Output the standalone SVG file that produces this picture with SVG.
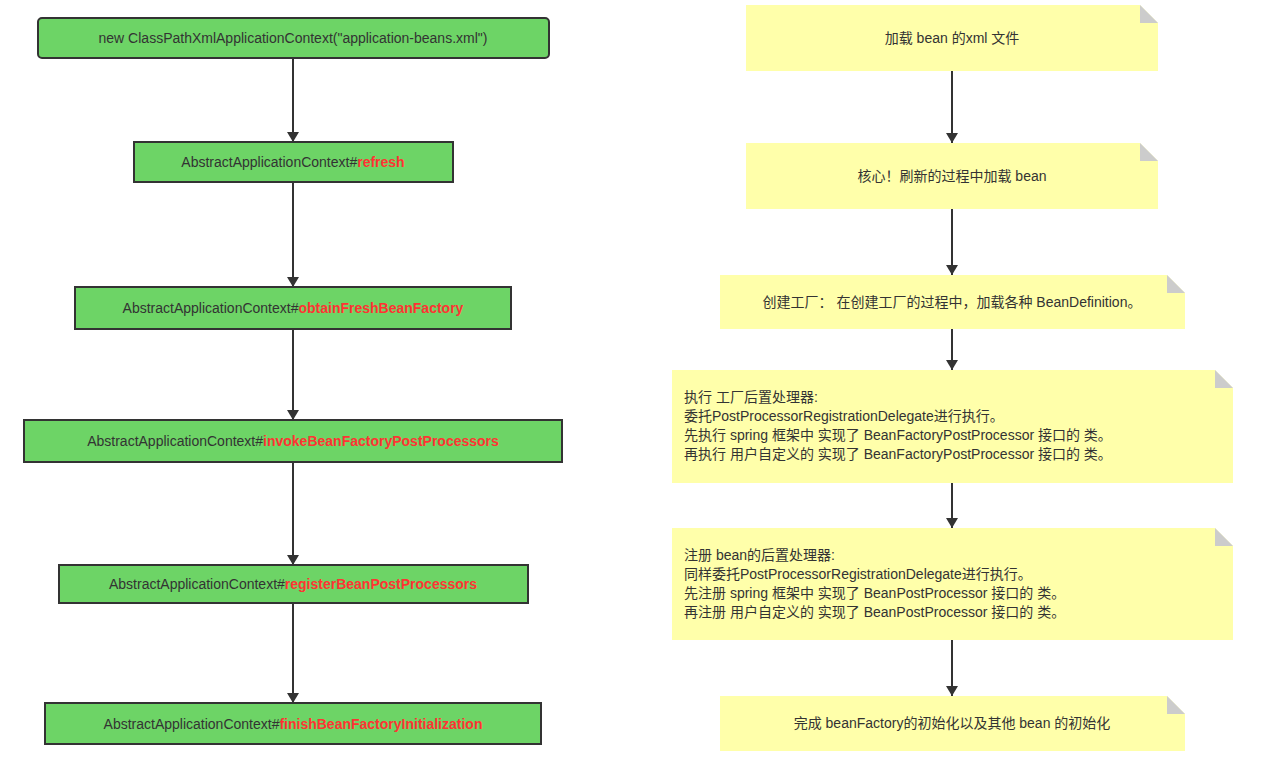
<svg xmlns="http://www.w3.org/2000/svg" width="1263" height="776" viewBox="0 0 1263 776">
<style>
.b{fill:#6dd466;stroke:#333;stroke-width:2}
.t{font-family:"Liberation Sans","Noto Sans CJK SC",sans-serif;font-size:14px;fill:#333}
.r{fill:#f33;font-weight:bold}
.n{fill:#ffffaa}
.f{fill:#ccc}
.c{stroke:#333;stroke-width:2;fill:none;marker-end:url(#a)}
</style>
<defs><marker id="a" markerWidth="10" markerHeight="12" refX="10" refY="6" orient="auto" markerUnits="userSpaceOnUse"><path d="M0,0L10,6L0,12z" fill="#333"/></marker></defs>
<g id="connectors">
<path class="c" d="M293,58V142"/><path class="c" d="M293,182V287"/><path class="c" d="M293,329V420"/><path class="c" d="M293,462V565"/><path class="c" d="M293,603V703"/>
<path class="c" d="M952,71V143"/><path class="c" d="M952,209V275"/><path class="c" d="M952,329V370"/><path class="c" d="M952,483V528"/><path class="c" d="M952,640V696"/>
</g>
<g id="l1"><rect class="b" x="38" y="18" width="511" height="40" rx="4"/><text class="t" x="293" y="43" text-anchor="middle">new ClassPathXmlApplicationContext("application-beans.xml")</text></g>
<g id="l2"><rect class="b" x="134" y="142" width="319" height="40"/><text class="t" x="293" y="167" text-anchor="middle">AbstractApplicationContext#<tspan class="r">refresh</tspan></text></g>
<g id="l3"><rect class="b" x="75" y="287" width="436" height="42"/><text class="t" x="293" y="313" text-anchor="middle">AbstractApplicationContext#<tspan class="r">obtainFreshBeanFactory</tspan></text></g>
<g id="l4"><rect class="b" x="24" y="420" width="538" height="42"/><text class="t" x="293" y="446" text-anchor="middle">AbstractApplicationContext#<tspan class="r">invokeBeanFactoryPostProcessors</tspan></text></g>
<g id="l5"><rect class="b" x="59" y="565" width="469" height="38"/><text class="t" x="293" y="589" text-anchor="middle">AbstractApplicationContext#<tspan class="r">registerBeanPostProcessors</tspan></text></g>
<g id="l6"><rect class="b" x="45" y="703" width="496" height="41"/><text class="t" x="293" y="729" text-anchor="middle">AbstractApplicationContext#<tspan class="r">finishBeanFactoryInitialization</tspan></text></g>
<g id="n1"><path class="n" d="M746,5H1140L1158,23V71H746z"/><path class="f" d="M1140,5L1158,23H1140z"/><text class="t" x="952" y="43" text-anchor="middle">加载 bean 的xml 文件</text></g>
<g id="n2"><path class="n" d="M746,143H1140L1158,161V209H746z"/><path class="f" d="M1140,143L1158,161H1140z"/><text class="t" x="952" y="181" text-anchor="middle">核心！刷新的过程中加载 bean</text></g>
<g id="n3"><path class="n" d="M720,275H1167L1185,293V329H720z"/><path class="f" d="M1167,275L1185,293H1167z"/><text class="t" x="952" y="307" text-anchor="middle">创建工厂： 在创建工厂的过程中，加载各种 BeanDefinition。</text></g>
<g id="n4"><path class="n" d="M672,370H1215L1233,388V483H672z"/><path class="f" d="M1215,370L1233,388H1215z"/><text class="t" x="684" y="402">执行 工厂后置处理器:<tspan x="684" dy="19">委托PostProcessorRegistrationDelegate进行执行。</tspan><tspan x="684" dy="19">先执行 spring 框架中 实现了 BeanFactoryPostProcessor 接口的 类。</tspan><tspan x="684" dy="19">再执行 用户自定义的  实现了 BeanFactoryPostProcessor 接口的 类。</tspan></text></g>
<g id="n5"><path class="n" d="M672,528H1215L1233,546V640H672z"/><path class="f" d="M1215,528L1233,546H1215z"/><text class="t" x="684" y="560">注册 bean的后置处理器:<tspan x="684" dy="19">同样委托PostProcessorRegistrationDelegate进行执行。</tspan><tspan x="684" dy="19">先注册 spring 框架中 实现了 BeanPostProcessor 接口的 类。</tspan><tspan x="684" dy="19">再注册 用户自定义的  实现了 BeanPostProcessor 接口的 类。</tspan></text></g>
<g id="n6"><path class="n" d="M720,696H1167L1185,714V751H720z"/><path class="f" d="M1167,696L1185,714H1167z"/><text class="t" x="952" y="728" text-anchor="middle">完成 beanFactory的初始化以及其他 bean 的初始化</text></g>
</svg>
